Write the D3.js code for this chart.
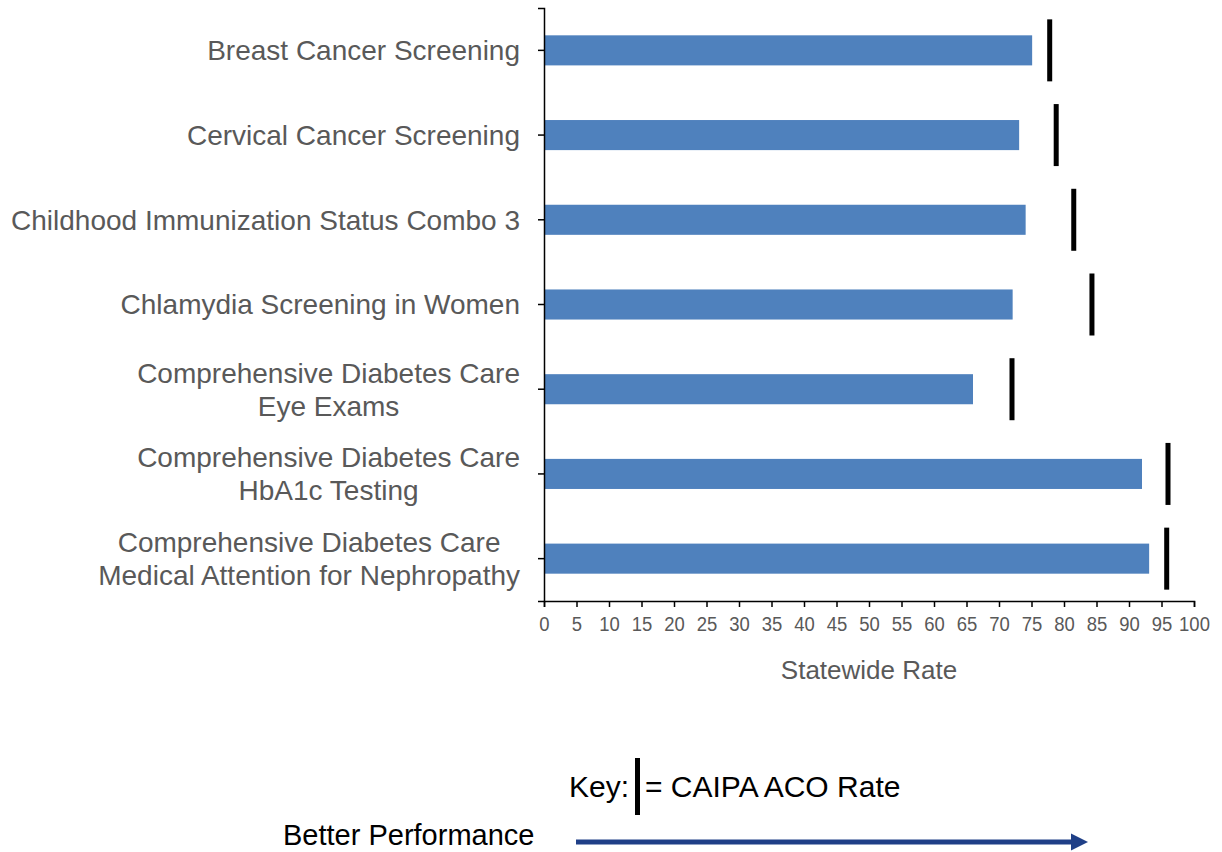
<!DOCTYPE html>
<html>
<head>
<meta charset="utf-8">
<script src="https://cdn.jsdelivr.net/npm/d3@7"></script>
<style>
  body { margin: 0; background: #fff; }
  svg { display: block; }
</style>
</head>
<body>
<svg id="chart"></svg>
<script>
const categories = [
  ['Breast Cancer Screening'],
  ['Cervical Cancer Screening'],
  ['Childhood Immunization Status Combo 3'],
  ['Chlamydia Screening in Women'],
  ['Comprehensive Diabetes Care', 'Eye Exams'],
  ['Comprehensive Diabetes Care', 'HbA1c Testing'],
  ['Comprehensive Diabetes Care', 'Medical Attention for Nephropathy']
];
const statewideRate = [75.1, 73.1, 74.1, 72.1, 66.0, 92.0, 93.1];
const caipaRate = [77.8, 78.8, 81.5, 84.3, 72.0, 96.0, 95.8];
const xTicks = d3.range(0, 101, 5);

(() => {
  const svgWidth = 1222;
  const svgHeight = 852;
  const margin = { top: 8, left: 544, right: 28, bottom: 251 };
  const width = svgWidth - (margin.left + margin.right);
  const height = svgHeight - (margin.top + margin.bottom);
  const grey = '#595959';
  const font = '"Liberation Sans", Arial, sans-serif';

  const svg = d3.select('#chart')
    .attr('width', svgWidth)
    .attr('height', svgHeight);

  const g = svg.append('g')
    .attr('transform', `translate(${margin.left}, ${margin.top})`);

  const xScale = d3.scaleLinear()
    .domain([0, 100])
    .range([0, 650]);

  const yScale = d3.scaleBand()
    .domain(d3.range(categories.length))
    .range([0, height])
    .paddingInner(0.645)
    .paddingOuter(0.3225);

  // bars
  g.selectAll('rect.bar')
    .data(statewideRate)
    .enter()
    .append('rect')
    .attr('class', 'bar')
    .attr('x', 0)
    .attr('y', (d, i) => yScale(i))
    .attr('width', d => xScale(d))
    .attr('height', yScale.bandwidth())
    .attr('fill', '#4f81bd');

  // CAIPA markers
  const markerLen = 62;
  g.selectAll('rect.marker')
    .data(caipaRate)
    .enter()
    .append('rect')
    .attr('class', 'marker')
    .attr('x', d => xScale(d) - 2.5)
    .attr('y', (d, i) => yScale(i) + yScale.bandwidth() / 2 - markerLen / 2)
    .attr('width', 5)
    .attr('height', markerLen)
    .attr('fill', '#000');

  // x axis
  const xAxis = g.append('g')
    .attr('transform', `translate(0, ${height})`)
    .call(d3.axisBottom(xScale).tickValues(xTicks).tickSize(6).tickSizeOuter(6).tickPadding(9));
  xAxis.select('.domain').attr('stroke', '#000').attr('stroke-width', 1.5);
  xAxis.selectAll('.tick line').attr('stroke', '#000').attr('stroke-width', 1.5);
  xAxis.selectAll('.tick text')
    .attr('fill', grey)
    .attr('transform', 'scale(0.88, 1)')
    .style('font-family', font)
    .style('font-size', '21px');

  // y axis
  const yAxis = g.append('g')
    .call(d3.axisLeft(yScale).tickSize(6).tickSizeOuter(6).tickFormat(''));
  yAxis.select('.domain').attr('stroke', '#000').attr('stroke-width', 1.5);
  yAxis.selectAll('.tick line').attr('stroke', '#000').attr('stroke-width', 1.5);

  // category labels: lines centred within a right-aligned block
  const lineH = 33;
  categories.forEach((lines, i) => {
    const cy = yScale(i) + yScale.bandwidth() / 2;
    const grp = svg.append('g');
    const texts = lines.map((ln, j) => grp.append('text')
      .attr('y', margin.top + cy + (j - (lines.length - 1) / 2) * lineH)
      .attr('dy', '0.35em')
      .attr('text-anchor', 'middle')
      .attr('fill', grey)
      .style('font-family', font)
      .style('font-size', '28px')
      .text(ln));
    const maxW = d3.max(texts, t => t.node().getComputedTextLength());
    texts.forEach(t => t.attr('x', 520 - maxW / 2));
  });

  // axis title
  svg.append('text')
    .attr('x', margin.left + xScale(50))
    .attr('y', 679)
    .attr('text-anchor', 'middle')
    .attr('fill', grey)
    .style('font-family', font)
    .style('font-size', '26px')
    .text('Statewide Rate');

  // key
  svg.append('text')
    .attr('x', 629)
    .attr('y', 797)
    .attr('text-anchor', 'end')
    .attr('fill', '#000')
    .style('font-family', font)
    .style('font-size', '30px')
    .text('Key:');
  svg.append('rect')
    .attr('x', 635)
    .attr('y', 758)
    .attr('width', 5)
    .attr('height', 57)
    .attr('fill', '#000');
  svg.append('text')
    .attr('x', 645)
    .attr('y', 797)
    .attr('fill', '#000')
    .style('font-family', font)
    .style('font-size', '30px')
    .text('= CAIPA ACO Rate');

  svg.append('text')
    .attr('x', 283)
    .attr('y', 845)
    .attr('fill', '#000')
    .style('font-family', font)
    .style('font-size', '29px')
    .text('Better Performance');

  svg.append('defs').append('marker')
    .attr('id', 'arrow')
    .attr('viewBox', '0 0 10 10')
    .attr('refX', 0)
    .attr('refY', 5)
    .attr('markerWidth', 3.4)
    .attr('markerHeight', 4)
    .attr('orient', 'auto')
    .append('path')
    .attr('d', 'M0,0 L10,5 L0,10 Z')
    .attr('fill', '#1f3f87');

  svg.append('line')
    .attr('x1', 576)
    .attr('y1', 842)
    .attr('x2', 1071)
    .attr('y2', 842)
    .attr('stroke', '#1f3f87')
    .attr('stroke-width', 5)
    .attr('marker-end', 'url(#arrow)');
})();
</script>
</body>
</html>
